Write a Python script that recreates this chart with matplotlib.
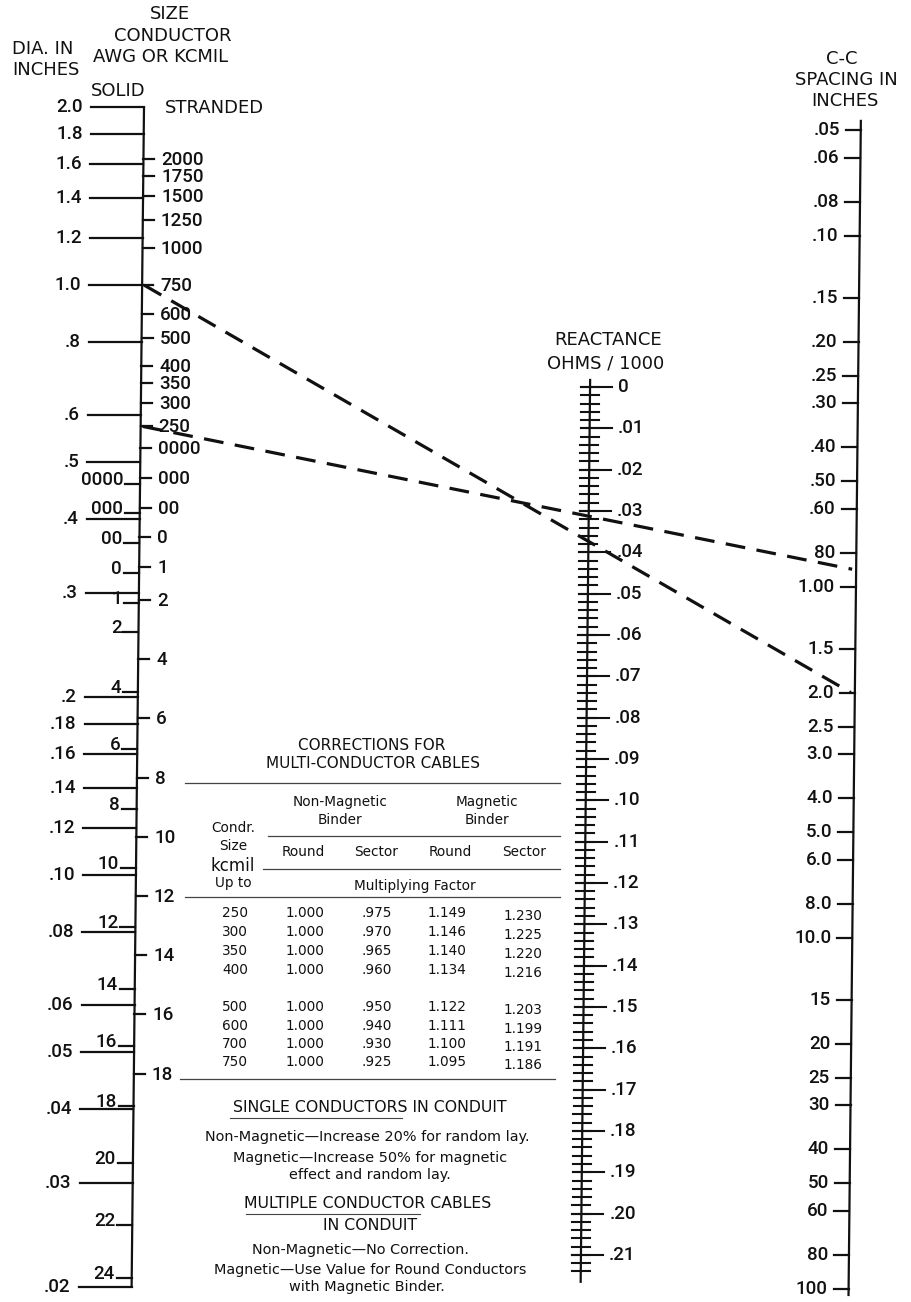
import numpy as np
import matplotlib
matplotlib.use("Agg")
import matplotlib.pyplot as plt
from matplotlib.transforms import Affine2D

W, H = 911, 1302

# ---------------- data ----------------
DIA_TICKS = [2.0, 1.8, 1.6, 1.4, 1.2, 1.0, 0.8, 0.6, 0.5, 0.4, 0.3, 0.2, 0.18, 0.16,
             0.14, 0.12, 0.10, 0.08, 0.06, 0.05, 0.04, 0.03, 0.02]
DIA_LABELS = ["2.0", "1.8", "1.6", "1.4", "1.2", "1.0", ".8", ".6", ".5", ".4", ".3", ".2",
              ".18", ".16", ".14", ".12", ".10", ".08", ".06", ".05", ".04", ".03", ".02"]

SOLID_AWG = ["0000", "000", "00", "0", "1", "2", "4", "6", "8", "10", "12", "14", "16",
             "18", "20", "22", "24"]
SOLID_DIA = [0.460, 0.410, 0.365, 0.325, 0.289, 0.258, 0.204, 0.163, 0.129, 0.1025, 0.0815,
             0.064, 0.0513, 0.0405, 0.0325, 0.0255, 0.0207]

STRANDED_SIZE = ["2000", "1750", "1500", "1250", "1000", "750", "600", "500", "400", "350",
                 "300", "250", "0000", "000", "00", "0", "1", "2", "4", "6", "8", "10", "12",
                 "14", "16", "18"]
STRANDED_DIA = [1.632, 1.526, 1.412, 1.289, 1.152, 0.998, 0.893, 0.813, 0.728, 0.681, 0.630,
                0.575, 0.528, 0.470, 0.419, 0.373, 0.332, 0.292, 0.232, 0.184, 0.146, 0.116,
                0.092, 0.073, 0.058, 0.046]

REACT_MAJOR = [0.00, 0.01, 0.02, 0.03, 0.04, 0.05, 0.06, 0.07, 0.08, 0.09, 0.10, 0.11,
               0.12, 0.13, 0.14, 0.15, 0.16, 0.17, 0.18, 0.19, 0.20, 0.21]
REACT_LABELS = ["0", ".01", ".02", ".03", ".04", ".05", ".06", ".07", ".08", ".09", ".10",
                ".11", ".12", ".13", ".14", ".15", ".16", ".17", ".18", ".19", ".20", ".21"]
REACT_MINOR_STEP = 0.002
REACT_MINOR_MAX = 0.214

SPACING_TICKS = [0.05, 0.06, 0.08, 0.10, 0.15, 0.20, 0.25, 0.30, 0.40, 0.50, 0.60, 0.80,
                 1.00, 1.5, 2.0, 2.5, 3.0, 4.0, 5.0, 6.0, 8.0, 10.0, 15, 20, 25, 30, 40, 50,
                 60, 80, 100]
SPACING_LABELS = [".05", ".06", ".08", ".10", ".15", ".20", ".25", ".30", ".40", ".50",
                  ".60", "80", "1.00", "1.5", "2.0", "2.5", "3.0", "4.0", "5.0", "6.0", "8.0",
                  "10.0", "15", "20", "25", "30", "40", "50", "60", "80", "100"]

# worked examples (conductor diameter -> C-C spacing)
EXAMPLE_DIA = [0.998, 0.575]
EXAMPLE_SPACING = [2.0, 0.89]

TABLE_SIZES = ["250", "300", "350", "400", "500", "600", "700", "750"]
NONMAG_ROUND = ["1.000", "1.000", "1.000", "1.000", "1.000", "1.000", "1.000", "1.000"]
NONMAG_SECTOR = [".975", ".970", ".965", ".960", ".950", ".940", ".930", ".925"]
MAG_ROUND = ["1.149", "1.146", "1.140", "1.134", "1.122", "1.111", "1.100", "1.095"]
MAG_SECTOR = ["1.230", "1.225", "1.220", "1.216", "1.203", "1.199", "1.191", "1.186"]

# ---------------- figure ----------------
NUM_FONT = ["Liberation Sans Narrow", "Roboto", "DejaVu Sans"]
HEAD_FONT = ["DejaVu Sans"]
TAB_FONT = ["DejaVu Sans"]
INK = "#111111"
NUM_SIZE = 13.5
NUM_WEIGHT = "medium"

fig = plt.figure(figsize=(W / 100, H / 100), dpi=100)
fig.patch.set_facecolor("white")
ax0 = fig.add_axes([0, 0, 1, 1])
ax0.set_xlim(0, W)
ax0.set_ylim(H, 0)
ax0.axis("off")

# slight scan skew of the original
K = 0.0105
Y0 = 107
skew = Affine2D(np.array([[1.0, K, -K * (H - Y0)], [0.0, 1.0, 0.0], [0.0, 0.0, 1.0]]))
TS = ax0.transData + skew


def scale_axes(yscale, lo, hi):
    ax = fig.add_axes([0, 0, 1, 1])
    ax.set_xlim(0, W)
    ax.set_yscale(yscale)
    ax.set_ylim(lo, hi)
    ax.axis("off")
    return ax


# scale axes (invisible) that provide the value -> position mapping
ax_dia = scale_axes("log", 2.0 / 10 ** ((H - 107) / 590), 2.0 * 10 ** (107 / 590))
ax_react = scale_axes("linear", (H - 387) / 4133.0, -387 / 4133.0)
ax_sp = scale_axes("log", 10 ** ((H - 587) / 351), 10 ** (-587 / 351))


def ypix(ax, v):
    return H - ax.transData.transform((0, v))[1]


def num(x, y, s, ha, va="center"):
    ax0.text(x, y, s, ha=ha, va=va, fontsize=NUM_SIZE, family=NUM_FONT,
             fontweight=NUM_WEIGHT, color=INK, transform=TS)


LW = 1.6
XL, XM, XR = 144, 593, 861

# ---------- left scale ----------
ax0.plot([XL, XL], [ypix(ax_dia, 2.0), ypix(ax_dia, 0.02)], color=INK, lw=LW,
         transform=TS, solid_capstyle="butt")
for d, lab in zip(DIA_TICKS, DIA_LABELS):
    y = ypix(ax_dia, d)
    ax0.plot([XL - 53, XL], [y, y], color=INK, lw=LW, transform=TS)
    num(XL - 61, y, lab, "right")
for d, lab in zip(SOLID_DIA, SOLID_AWG):
    y = ypix(ax_dia, d)
    ax0.plot([XL - 15, XL], [y, y], color=INK, lw=LW, transform=TS)
    num(XL - 17, y + 1, lab, "right", va="baseline")
for d, lab in zip(STRANDED_DIA, STRANDED_SIZE):
    y = ypix(ax_dia, d)
    ax0.plot([XL, XL + 11], [y, y], color=INK, lw=LW, transform=TS)
    num(XL + 18, y + 1, lab, "left")

# ---------- reactance scale ----------
ax0.plot([XM, XM], [ypix(ax_react, -0.0017), ypix(ax_react, 0.2165)], color=INK, lw=LW,
         transform=TS)
for v in np.arange(0, REACT_MINOR_MAX + 1e-9, REACT_MINOR_STEP):
    y = ypix(ax_react, v)
    ax0.plot([XM - 9, XM + 9], [y, y], color=INK, lw=1.5, transform=TS)
for v, lab in zip(REACT_MAJOR, REACT_LABELS):
    y = ypix(ax_react, v)
    ax0.plot([XM - 9, XM + 22], [y, y], color=INK, lw=1.5, transform=TS)
    num(XM + 28, y, lab, "left")

# ---------- spacing scale ----------
ax0.plot([XR, XR], [ypix(ax_sp, 0.047), ypix(ax_sp, 104)], color=INK, lw=LW, transform=TS)
for s, lab in zip(SPACING_TICKS, SPACING_LABELS):
    y = ypix(ax_sp, s)
    ax0.plot([XR - 15, XR], [y, y], color=INK, lw=LW, transform=TS)
    num(XR - 21, y, lab, "right")

# ---------- example lines ----------
for d, s in zip(EXAMPLE_DIA, EXAMPLE_SPACING):
    ax0.plot([XL + 2, XR - 4], [ypix(ax_dia, d), ypix(ax_sp, s)], color=INK, lw=2.3,
             linestyle=(0, (6.2, 3.6)), transform=TS)


# ---------- headers ----------
def htext(x, y, s, ha="center", size=13, fam=HEAD_FONT):
    ax0.text(x, y, s, ha=ha, va="center", fontsize=size, family=fam, color=INK)


htext(170, 14, "SIZE")
htext(173, 36, "CONDUCTOR")
htext(12, 49, "DIA. IN", ha="left")
htext(93, 57, "AWG OR KCMIL", ha="left")
htext(12, 70, "INCHES", ha="left")
htext(91, 91, "SOLID", ha="left")
htext(165, 108, "STRANDED", ha="left")
htext(842, 59, "C-C")
htext(846, 80, "SPACING IN")
htext(845, 101, "INCHES")
htext(608, 340, "REACTANCE")
htext(606, 363, "OHMS / 1000")


# ---------- corrections table ----------
def ttext(x, y, s, size=9.8, ha="center", fam=TAB_FONT):
    ax0.text(x, y, s, ha=ha, va="center", fontsize=size, family=fam, color=INK)


def rule(x1, x2, y, lw=0.9):
    ax0.plot([x1, x2], [y, y], color="#444444", lw=lw)


ttext(372, 746, "CORRECTIONS FOR", size=11)
ttext(373, 763, "MULTI-CONDUCTOR CABLES", size=11)
rule(185, 560, 783)
ttext(340, 802, "Non-Magnetic")
ttext(340, 820, "Binder")
ttext(487, 802, "Magnetic")
ttext(487, 820, "Binder")
rule(268, 560, 836)
ttext(233, 828, "Condr.")
ttext(233, 846, "Size")
ttext(233, 866, "kcmil", size=12)
ttext(233, 883, "Up to")
rule(263, 560, 869)
for x, s in zip([303, 376, 450, 524], ["Round", "Sector", "Round", "Sector"]):
    ttext(x, 852, s)
ttext(415, 886, "Multiplying Factor")
rule(185, 560, 897)

ROW_Y = [913, 932, 951, 970, 1007, 1026, 1044, 1062]
COLS = [TABLE_SIZES, NONMAG_ROUND, NONMAG_SECTOR, MAG_ROUND, MAG_SECTOR]
COL_X = [235, 305, 377, 447, 523]
for cx, col in zip(COL_X, COLS):
    for i, s in enumerate(col):
        ttext(cx, ROW_Y[i] + (3 if cx > 500 else 0), s)
rule(180, 555, 1079)

ttext(370, 1107, "SINGLE CONDUCTORS IN CONDUIT", size=11.3)
rule(230, 402, 1118, lw=0.8)
ttext(367, 1137, "Non-Magnetic\u2014Increase 20% for random lay.", size=10.4)
ttext(370, 1158, "Magnetic\u2014Increase 50% for magnetic", size=10.4)
ttext(370, 1175, "effect and random lay.", size=10.4)
ttext(368, 1203, "MULTIPLE CONDUCTOR CABLES", size=11.3)
rule(246, 420, 1214, lw=0.8)
ttext(370, 1226, "IN CONDUIT", size=11.3)
ttext(360, 1250, "Non-Magnetic\u2014No Correction.", size=10.4)
ttext(370, 1270, "Magnetic\u2014Use Value for Round Conductors", size=10.4)
ttext(367, 1287, "with Magnetic Binder.", size=10.4)

fig.savefig("out.png", dpi=100, facecolor="white")
